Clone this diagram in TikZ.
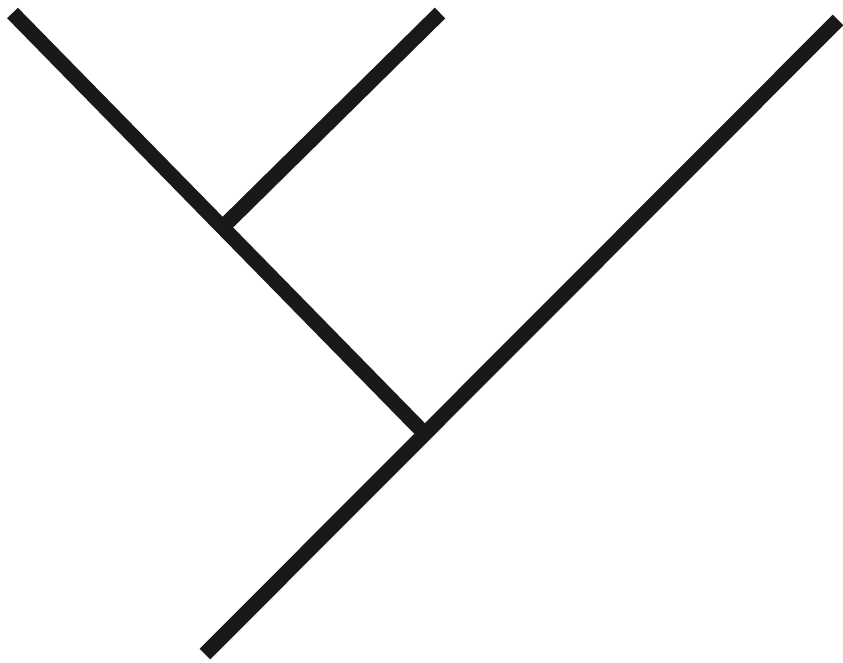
\documentclass[tikz,border=0pt]{standalone}
\begin{document}
\begin{tikzpicture}[x=1pt,y=-1pt,
  branch/.style={line width=15pt,draw=black!90,line cap=butt}]
\useasboundingbox[fill=white] (0,0) rectangle (843,662);
\coordinate (leftTop) at (12.5,13);
\coordinate (midTop) at (440,13);
\coordinate (rightTop) at (838,20);
\coordinate (root) at (205,654);
\coordinate (inner) at (222.6,227.3);
\coordinate (outer) at (425,434);
\draw[branch] (root) -- (rightTop);
\draw[branch] (outer) -- (leftTop);
\draw[branch] (inner) -- (midTop);
\end{tikzpicture}
\end{document}
